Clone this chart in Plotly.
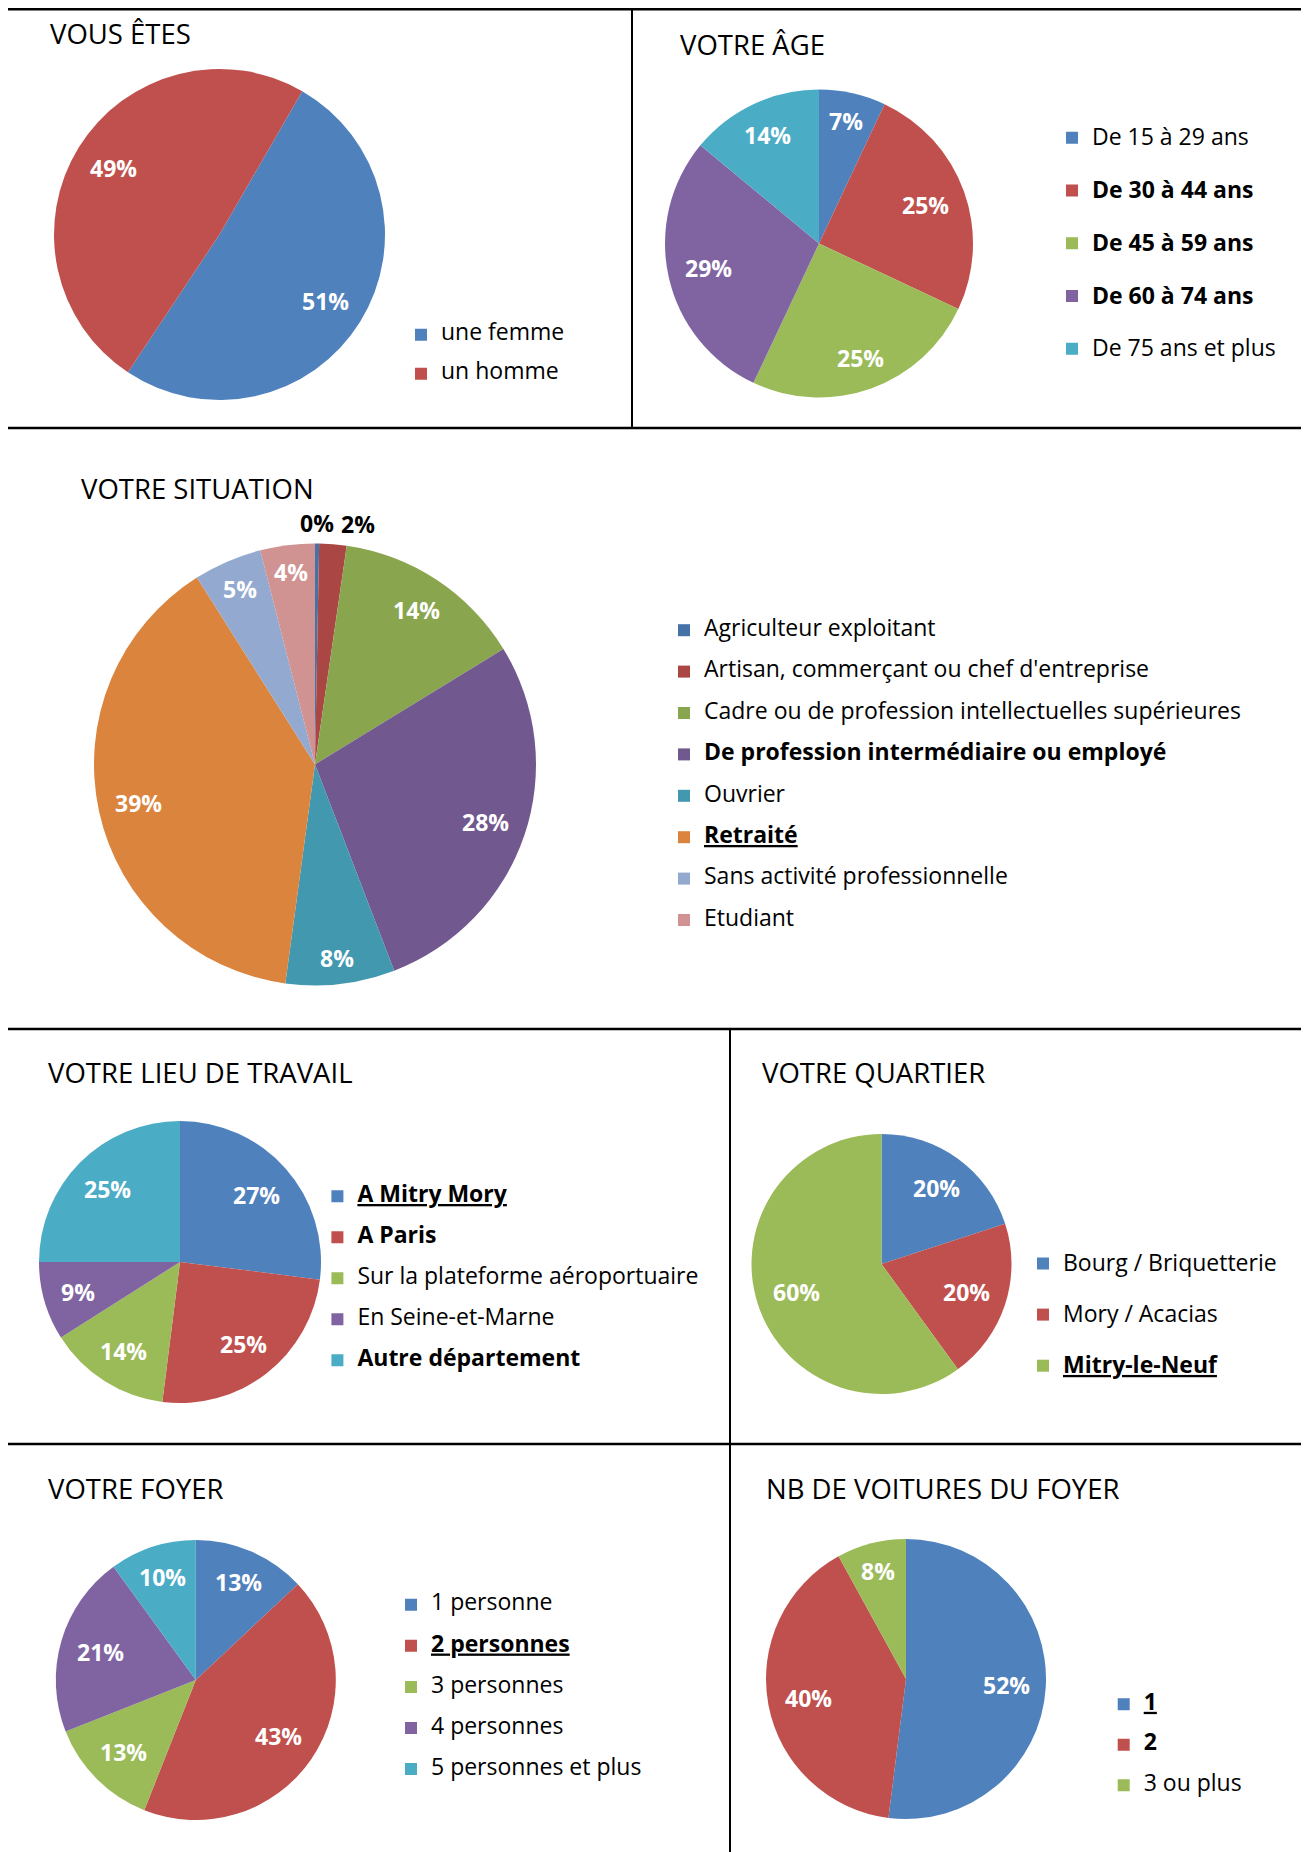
import math
import plotly.graph_objects as go

# ---------------- data ----------------
gender_labels = ["une femme", "un homme"]
gender_values = [51, 49]

age_labels = ["De 15 à 29 ans", "De 30 à 44 ans", "De 45 à 59 ans", "De 60 à 74 ans", "De 75 ans et plus"]
age_values = [7, 25, 25, 29, 14]

situation_labels = ["Agriculteur exploitant", "Artisan, commerçant ou chef d'entreprise",
                    "Cadre ou de profession intellectuelles supérieures",
                    "De profession intermédiaire ou employé", "Ouvrier", "Retraité",
                    "Sans activité professionnelle", "Etudiant"]
situation_values = [0.3, 2, 14, 28, 8, 39, 5, 4]

work_labels = ["A Mitry Mory", "A Paris", "Sur la plateforme aéroportuaire", "En Seine-et-Marne", "Autre département"]
work_values = [27, 25, 14, 9, 25]

district_labels = ["Bourg / Briquetterie", "Mory / Acacias", "Mitry-le-Neuf"]
district_values = [20, 20, 60]

household_labels = ["1 personne", "2 personnes", "3 personnes", "4 personnes", "5 personnes et plus"]
household_values = [13, 43, 13, 21, 10]

cars_labels = ["1", "2", "3 ou plus"]
cars_values = [52, 40, 8]

titles = ["VOUS ÊTES", "VOTRE ÂGE", "VOTRE SITUATION", "VOTRE LIEU DE TRAVAIL",
          "VOTRE QUARTIER", "VOTRE FOYER", "NB DE VOITURES DU FOYER"]

# ---------------- styles ----------------
OFFICE = ["#4F81BD", "#C0504D", "#9BBB59", "#8064A2", "#4BACC6"]
SITU_COLORS = ["#4572A7", "#AA4643", "#89A54E", "#71588F", "#4198AF", "#DB843D", "#93A9CF", "#D19392"]
FONT = "Open Sans"
LEG_SIZE = 23
PCT_SIZE = 23
TITLE_SIZE = 27.5

# page geometry (browser body margin of 8px is compensated)
SW, SH = 1309, 1852
OFF = 8
W, H = SW - OFF, SH - OFF


def px(x):
    return (x - OFF) / W


def py(y):
    return 1 - (y - OFF) / H


# legend text styles: (bold, underline) per item
gender_style = [(0, 0), (0, 0)]
age_style = [(0, 0), (1, 0), (1, 0), (1, 0), (0, 0)]
situation_style = [(0, 0), (0, 0), (0, 0), (1, 0), (0, 0), (1, 1), (0, 0), (0, 0)]
work_style = [(1, 1), (1, 0), (0, 0), (0, 0), (1, 0)]
district_style = [(0, 0), (0, 0), (1, 1)]
household_style = [(0, 0), (1, 1), (0, 0), (0, 0), (0, 0)]
cars_style = [(1, 1), (1, 0), (0, 0)]


def fmt(label, style):
    b, u = style
    t = label
    if u:
        t = f"<u>{t}</u>"
    if b:
        t = f"<b>{t}</b>"
    return f"<span style='font-size:{LEG_SIZE}px'>{t}</span><br>\u00a0"


def pie_labels(values, cx, cy, r, rot):
    """Percentage labels placed along each slice's mid-angle (Excel-like 'best fit')."""
    total = sum(values)
    out = []
    cum = 0.0
    prev_right = None
    for v in values:
        theta = math.radians(rot + 360.0 * (cum + v / 2.0) / total)
        cum += v
        ux, uy = math.sin(theta), -math.cos(theta)
        txt = f"{v:.0f}%"
        w = PCT_SIZE * (0.57 * (len(txt) - 1) + 0.87)
        h = 0.75 * PCT_SIZE
        if 100.0 * v / total < 3:
            d = r + 20
            x, y = cx + d * ux, cy + d * uy
            if prev_right is not None and x - w / 2 < prev_right + 8:
                x = prev_right + 8 + w / 2
            prev_right = x + w / 2
            color = "black"
        else:
            d = r - 16 - (abs(ux) * w / 2 + abs(uy) * h / 2)
            x, y = cx + d * ux, cy + d * uy
            color = "white"
        out.append(dict(text=f"<b>{txt}</b>", x=px(x), y=py(y), xref="paper", yref="paper",
                        xanchor="center", yanchor="middle", showarrow=False,
                        font=dict(family=FONT, size=PCT_SIZE, color=color)))
    return out


fig = go.Figure()
annotations = []

# panel specs (screen px): centre x, centre y, radius, rotation, legend text x, first marker y, spacing
panels = [
    (gender_labels, gender_values, gender_style, OFFICE, 219.5, 234.5, 165.5, 30, 440, 334.8, 39.0),
    (age_labels, age_values, age_style, OFFICE, 819, 243.5, 154, 0, 1091, 137.8, 52.75),
    (situation_labels, situation_values, situation_style, SITU_COLORS, 315, 764.4, 221, 0, 703, 630.2, 41.4),
    (work_labels, work_values, work_style, OFFICE, 180, 1262, 141, 0, 356.4, 1196.3, 41.0),
    (district_labels, district_values, district_style, OFFICE, 881.5, 1264, 130, 0, 1062, 1263.5, 51.1),
    (household_labels, household_values, household_style, OFFICE, 195.8, 1680, 140, 0, 430, 1604.7, 41.1),
    (cars_labels, cars_values, cars_style, OFFICE, 906, 1679, 140, 0, 1142.7, 1704.2, 40.5),
]

layout_legends = {}
for i, (labels, values, style, colors, cx, cy, r, rot, tx, my, sp) in enumerate(panels):
    lid = "legend" if i == 0 else f"legend{i + 1}"
    names = [fmt(l, s) for l, s in zip(labels, style)]
    fig.add_trace(go.Pie(
        labels=names,
        values=values,
        sort=False,
        direction="clockwise",
        rotation=rot,
        marker=dict(colors=colors[:len(values)], line=dict(width=0)),
        textinfo="none",
        domain=dict(x=[px(cx - r), px(cx + r)], y=[py(cy + r), py(cy - r)]),
        hoverinfo="skip",
        legend=lid,
        showlegend=True,
    ))
    annotations += pie_labels(values, cx, cy, r, rot)
    F = (sp - 3) / 2.6
    top = my - 6.5 - 0.65 * F
    left = tx - 39
    layout_legends[lid] = dict(
        x=px(left), y=py(top), xanchor="left", yanchor="top",
        font=dict(family=FONT, size=F, color="black"),
        valign="top", bgcolor="rgba(0,0,0,0)", borderwidth=0,
        traceorder="normal",
    )

# titles
title_pos = [(48, 34), (678, 45), (79, 488), (46, 1072), (760, 1072), (46, 1488), (764, 1488)]
for t, (x, y) in zip(titles, title_pos):
    annotations.append(dict(text=t, x=px(x), y=py(y), xref="paper", yref="paper",
                            xanchor="left", yanchor="middle", showarrow=False,
                            font=dict(family=FONT, size=TITLE_SIZE, color="black")))


# frame lines
def hline(y, x0, x1, w=2.5):
    return dict(type="line", xref="paper", yref="paper", x0=px(x0), x1=px(x1),
                y0=py(y), y1=py(y), line=dict(color="black", width=w))


def vline(x, y0, y1, w=2):
    return dict(type="line", xref="paper", yref="paper", x0=px(x), x1=px(x),
                y0=py(y0), y1=py(y1), line=dict(color="black", width=w))


shapes = [
    hline(9, 5, SW + 2, 3), hline(428, 5, SW + 2), hline(1029, 5, SW + 2), hline(1444, 5, SW + 2),
    vline(6, 8, SH + 2), vline(632, 9, 428), vline(730, 1029, SH + 2),
]

fig.update_layout(
    width=W, height=H,
    margin=dict(l=0, r=0, t=0, b=0),
    paper_bgcolor="white", plot_bgcolor="white",
    font=dict(family=FONT),
    annotations=annotations,
    shapes=shapes,
    **layout_legends,
)

fig.write_html("out.html")
